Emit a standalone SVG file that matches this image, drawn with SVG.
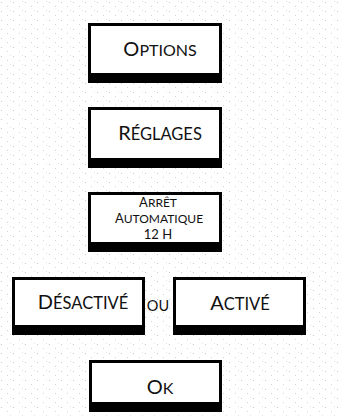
<svg xmlns="http://www.w3.org/2000/svg" width="339" height="416" viewBox="0 0 339 416">
<style>
.frame{fill:#000}
.inner{fill:#fff}
.t{font-family:Lato,"Open Sans","Liberation Sans",sans-serif;fill:#111;text-anchor:middle}
.big{font-size:20px}
.sm{font-size:16px}
.big2{font-size:20px}
.sm2{font-size:16.5px}
.big3{font-size:13px}
.sm3{font-size:12px}
</style>
<defs>
<pattern id="dots" width="12" height="9" patternUnits="userSpaceOnUse">
<rect x="1" y="2" width="1" height="1" fill="#bbb"/>
<rect x="7" y="6" width="1" height="1" fill="#ccc"/>
<rect x="10" y="1" width="1" height="1" fill="#ddd"/>
</pattern>
</defs>
<rect width="339" height="416" fill="#fff"/>
<rect width="339" height="416" fill="url(#dots)" opacity="0.8"/>
<g id="connectors"></g>
<g id="options">
<rect class="frame" x="88" y="23" width="134" height="60"/>
<rect class="inner" x="91" y="26" width="128" height="47"/>
<text class="t" x="160" y="56"><tspan class="big">O</tspan><tspan class="sm">PTIONS</tspan></text>
</g>
<g id="reglages">
<rect class="frame" x="88" y="107" width="134" height="61"/>
<rect class="inner" x="91" y="110" width="128" height="48"/>
<text class="t" x="160" y="140"><tspan class="big2">R</tspan><tspan class="sm2">ÉGLAGES</tspan></text>
</g>
<g id="arret">
<rect class="frame" x="88" y="192" width="134" height="60"/>
<rect class="inner" x="91" y="195" width="128" height="47"/>
<text class="t" x="158" y="207"><tspan class="big3">A</tspan><tspan class="sm3">RRÊT</tspan></text>
<text class="t" x="159" y="223"><tspan class="big3">A</tspan><tspan class="sm3">UTOMATIQUE</tspan></text>
<text class="t" x="158" y="239" font-size="13">12 H</text>
</g>
<g id="desactive">
<rect class="frame" x="12" y="277" width="133" height="58"/>
<rect class="inner" x="15" y="280" width="127" height="45"/>
<text class="t" x="83" y="309"><tspan class="big2">D</tspan><tspan class="sm2">ÉSACTIVÉ</tspan></text>
</g>
<text id="ou" class="t" x="158" y="311" font-size="14.5">OU</text>
<g id="active">
<rect class="frame" x="173" y="277" width="133" height="58"/>
<rect class="inner" x="176" y="280" width="127" height="45"/>
<text class="t" x="240" y="310"><tspan class="big2">A</tspan><tspan class="sm2">CTIVÉ</tspan></text>
</g>
<g id="ok">
<rect class="frame" x="89" y="360" width="133" height="52"/>
<rect class="inner" x="92" y="363" width="127" height="39"/>
<text class="t" x="160" y="394"><tspan class="big">O</tspan><tspan class="sm">K</tspan></text>
</g>
</svg>
